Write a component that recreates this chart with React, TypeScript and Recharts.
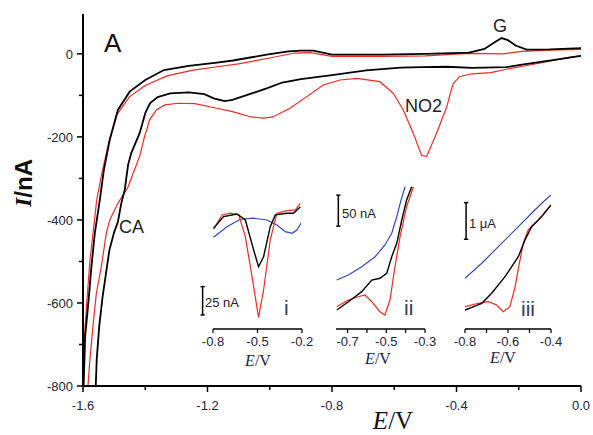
import React from "react";
import { LineChart, Line, XAxis, YAxis, ReferenceLine } from "recharts";

// main voltammograms, [E (V), I (nA)]
const blackCathodic = [
  [0, -5], [-0.08, -14], [-0.19, -26], [-0.24, -32], [-0.35, -34], [-0.43, -31], [-0.51, -32],
  [-0.58, -33], [-0.69, -40], [-0.8, -51], [-0.9, -61], [-0.96, -69], [-1.01, -83], [-1.06, -96],
  [-1.12, -111], [-1.145, -114], [-1.18, -107], [-1.21, -97], [-1.26, -93], [-1.32, -95],
  [-1.36, -104], [-1.385, -119], [-1.4, -143], [-1.418, -191], [-1.445, -239], [-1.455, -267],
  [-1.466, -328], [-1.477, -360], [-1.488, -405], [-1.5, -430], [-1.515, -472], [-1.526, -528],
  [-1.537, -585], [-1.548, -657], [-1.556, -737], [-1.559, -800],
];
const blackAnodic = [
  [-1.598, -800], [-1.593, -680], [-1.582, -593], [-1.573, -513], [-1.562, -432], [-1.546, -352],
  [-1.533, -280], [-1.514, -207], [-1.488, -135], [-1.45, -91], [-1.4, -63], [-1.34, -39],
  [-1.26, -29], [-1.17, -21], [-1.118, -16], [-1.01, -2], [-0.94, 6], [-0.9, 8], [-0.86, 8],
  [-0.8, -2], [-0.64, -2], [-0.5, 0], [-0.36, 3], [-0.31, 12], [-0.28, 27], [-0.255, 38],
  [-0.235, 33], [-0.21, 20], [-0.175, 10], [-0.1, 11], [0, 14],
];
const redCathodic = [
  [0, -5], [-0.03, -7], [-0.13, -22], [-0.24, -37], [-0.29, -45], [-0.35, -48], [-0.39, -55],
  [-0.41, -71], [-0.42, -95], [-0.431, -127], [-0.464, -191], [-0.496, -247], [-0.512, -245],
  [-0.539, -191], [-0.571, -135], [-0.603, -95], [-0.646, -67], [-0.72, -59], [-0.774, -63],
  [-0.828, -75], [-0.881, -103], [-0.935, -131], [-0.99, -152], [-1.02, -155], [-1.06, -152],
  [-1.12, -139], [-1.17, -131], [-1.24, -120], [-1.295, -119], [-1.337, -123], [-1.364, -135],
  [-1.386, -159], [-1.402, -199], [-1.418, -247], [-1.439, -288], [-1.455, -320], [-1.488, -360],
  [-1.514, -400], [-1.525, -432], [-1.541, -512], [-1.557, -576], [-1.568, -657], [-1.578, -737],
  [-1.584, -800],
];
const redAnodic = [
  [-1.6, -770], [-1.597, -700], [-1.588, -600], [-1.578, -500], [-1.566, -420], [-1.556, -352],
  [-1.54, -290], [-1.518, -215], [-1.49, -145], [-1.45, -103], [-1.4, -76], [-1.33, -53],
  [-1.25, -40], [-1.17, -31], [-1.1, -24], [-1.0, -10], [-0.92, 2], [-0.87, 3], [-0.8, -6],
  [-0.64, -6], [-0.5, -5], [-0.36, 1], [-0.25, 0], [-0.19, 6], [-0.1, 9], [0, 11],
];

// inset i (nA above axis)
const i_red = [
  [-0.796, 88], [-0.739, 100.7], [-0.683, 102.2], [-0.627, 100.7], [-0.582, 81.5], [-0.537, 46.2],
  [-0.493, 10.3], [-0.459, 34.4], [-0.414, 78.6], [-0.369, 102.2], [-0.301, 104.5], [-0.245, 105.1],
  [-0.211, 111],
];
const i_black = [
  [-0.796, 88.9], [-0.729, 99.2], [-0.638, 101.5], [-0.582, 96.2], [-0.526, 69.8], [-0.493, 55],
  [-0.459, 63.8], [-0.414, 90.3], [-0.38, 100.7], [-0.301, 102.2], [-0.257, 102.2], [-0.211, 108],
];
const i_blue = [
  [-0.796, 81], [-0.706, 90.3], [-0.616, 96.9], [-0.526, 97.8], [-0.436, 96.2], [-0.369, 91.8],
  [-0.313, 85.9], [-0.267, 84.5], [-0.234, 87.4], [-0.207, 93.3],
];

// inset ii (nA)
const ii_blue = [
  [-0.756, 79], [-0.696, 87], [-0.627, 100.5], [-0.558, 116.6], [-0.507, 135.5], [-0.472, 154.4],
  [-0.446, 181], [-0.424, 208], [-0.403, 229.5],
];
const ii_black = [
  [-0.756, 30.6], [-0.696, 44], [-0.627, 60.2], [-0.575, 79], [-0.533, 81.8], [-0.498, 89.8],
  [-0.472, 116.6], [-0.446, 138.2], [-0.42, 175.8], [-0.395, 208], [-0.369, 229.5],
];
const ii_red = [
  [-0.756, 36], [-0.696, 46.8], [-0.645, 52.1], [-0.61, 54.8], [-0.575, 44], [-0.533, 27.9],
  [-0.507, 22.6], [-0.481, 46.8], [-0.455, 100.5], [-0.429, 148.9], [-0.395, 197.3], [-0.36, 229.5],
];

// inset iii (µA)
const iii_blue = [
  [-0.8, 1.385], [-0.722, 1.795], [-0.645, 2.248], [-0.567, 2.705], [-0.49, 3.161], [-0.443, 3.434],
  [-0.4, 3.661],
];
const iii_black = [
  [-0.8, 0.519], [-0.722, 0.702], [-0.676, 0.975], [-0.614, 1.429], [-0.552, 1.975], [-0.521, 2.431],
  [-0.49, 2.795], [-0.443, 3.068], [-0.4, 3.388],
];
const iii_red = [
  [-0.8, 0.609], [-0.738, 0.702], [-0.692, 0.746], [-0.653, 0.656], [-0.622, 0.473], [-0.591, 0.609],
  [-0.567, 1.156], [-0.544, 1.885], [-0.529, 2.341], [-0.506, 2.705], [-0.459, 2.978], [-0.4, 3.388],
];

const xTicks = [-1.6, -1.4, -1.2, -1.0, -0.8, -0.6, -0.4, -0.2, 0];
const yTicks = [-800, -700, -600, -500, -400, -300, -200, -100, 0];

const RED = "#ee2a24";
const BLUE = "#3347b8";
const LBL = "#22243a";
const SANS = "'Liberation Sans', Arial, sans-serif";
const SERIF = "'Liberation Serif', 'Times New Roman', serif";

const pts = (a: number[][]) => a.map(([v, i]) => ({ v, i }));

const MainXTick = ({ x, y, payload }: any) => {
  const v = payload.value;
  const major = Math.round(v * 10) % 4 === 0;
  return (
    <g>
      <line x1={x} y1={y} x2={x} y2={y + (major ? 6 : 4)} stroke="#000" strokeWidth={1.5} />
      {major && (
        <text x={x} y={y + 24} textAnchor="middle" fontSize={13} fontFamily={SANS} fill={LBL}>
          {v.toFixed(1)}
        </text>
      )}
    </g>
  );
};

const MainYTick = ({ x, y, payload }: any) => {
  const v = payload.value;
  const major = v % 200 === 0;
  return (
    <g>
      <line x1={x} y1={y} x2={x - (major ? 6 : 4)} y2={y} stroke="#000" strokeWidth={1.5} />
      {major && (
        <text x={x - 10} y={y + 5} textAnchor="end" fontSize={13} fontFamily={SANS} fill={LBL}>
          {v}
        </text>
      )}
    </g>
  );
};

const InsetTick = ({ x, y, payload, labels }: any) => {
  const v = payload.value;
  const show = labels.some((l: number) => Math.abs(l - v) < 1e-6);
  return (
    <g>
      <line x1={x} y1={y} x2={x} y2={y + 4} stroke="#000" strokeWidth={1.2} />
      {show && (
        <text x={x} y={y + 17} textAnchor="middle" fontSize={13} fontFamily={SANS} fill={LBL}>
          {v.toFixed(1)}
        </text>
      )}
    </g>
  );
};

type InsetProps = {
  left: number; top: number; w: number; h: number;
  xDomain: number[]; yDomain: number[]; ticks: number[]; labels: number[];
  black: number[][]; red: number[][]; blue: number[][];
  bar: { x: number; y0: number; y1: number; cap: number };
};

function Inset({ left, top, w, h, xDomain, yDomain, ticks, labels, black, red, blue, bar }: InsetProps) {
  const m = 24;
  const seg = (x0: number, y0: number, x1: number, y1: number, k: string) => (
    <ReferenceLine key={k} segment={[{ x: x0, y: y0 }, { x: x1, y: y1 }]} ifOverflow="visible" stroke="#000" strokeWidth={1.5} />
  );
  return (
    <div style={{ position: "absolute", left: left - m, top }}>
      <LineChart width={w + 2 * m} height={h + 40} margin={{ top: 0, right: m, bottom: 0, left: m }}>
        <XAxis
          type="number" dataKey="v" domain={xDomain} allowDataOverflow ticks={ticks} interval={0}
          tickSize={0} tickMargin={0} height={40} tickLine={false}
          axisLine={{ stroke: "#000", strokeWidth: 1.5 }}
          tick={(p: any) => <InsetTick {...p} labels={labels} />}
        />
        <YAxis type="number" dataKey="i" domain={yDomain} allowDataOverflow hide width={0} />
        <Line data={pts(blue)} dataKey="i" stroke={BLUE} strokeWidth={1.2} dot={false} isAnimationActive={false} />
        <Line data={pts(red)} dataKey="i" stroke={RED} strokeWidth={1.2} dot={false} isAnimationActive={false} />
        <Line data={pts(black)} dataKey="i" stroke="#000" strokeWidth={1.4} dot={false} isAnimationActive={false} />
        {seg(bar.x, bar.y0, bar.x, bar.y1, "v")}
        {seg(bar.x - bar.cap, bar.y0, bar.x + bar.cap, bar.y0, "c0")}
        {seg(bar.x - bar.cap, bar.y1, bar.x + bar.cap, bar.y1, "c1")}
      </LineChart>
    </div>
  );
}

export default function App() {
  const lineProps = { dataKey: "i", dot: false, isAnimationActive: false } as const;
  return (
    <div style={{ position: "absolute", left: 0, top: 0, width: 593, height: 435, background: "#fff" }}>
      <LineChart width={593} height={435} margin={{ top: 14, right: 12, bottom: 19, left: 23 }}>
        <XAxis
          type="number" dataKey="v" domain={[-1.6, 0]} allowDataOverflow ticks={xTicks} interval={0}
          tickSize={0} tickMargin={0} height={30} tickLine={false}
          axisLine={{ stroke: "#000", strokeWidth: 2 }} tick={<MainXTick />}
        />
        <XAxis
          xAxisId="top" orientation="top" type="number" domain={[-1.6, 0]} height={0}
          tick={false} tickLine={false} axisLine={{ stroke: "#000", strokeWidth: 1.5 }}
        />
        <YAxis
          type="number" dataKey="i" domain={[-800, 96]} allowDataOverflow ticks={yTicks} interval={0}
          tickSize={0} tickMargin={0} width={60} tickLine={false}
          axisLine={{ stroke: "#000", strokeWidth: 2 }} tick={<MainYTick />}
        />
        <YAxis
          yAxisId="right" orientation="right" type="number" domain={[-800, 96]} width={0}
          tick={false} tickLine={false} axisLine={{ stroke: "#000", strokeWidth: 1.5 }}
        />
        <Line data={pts(redCathodic)} stroke={RED} strokeWidth={1.2} {...lineProps} />
        <Line data={pts(redAnodic)} stroke={RED} strokeWidth={1.2} {...lineProps} />
        <Line data={pts(blackCathodic)} stroke="#000" strokeWidth={1.8} {...lineProps} />
        <Line data={pts(blackAnodic)} stroke="#000" strokeWidth={1.8} {...lineProps} />
      </LineChart>

      <Inset
        left={212.7} top={190} w={89} h={139} xDomain={[-0.8, -0.2]} yDomain={[0, 122.7]}
        ticks={[-0.8, -0.5, -0.2]} labels={[-0.8, -0.5, -0.2]}
        black={i_black} red={i_red} blue={i_blue} bar={{ x: -0.87, y0: 12.4, y1: 37.4, cap: 0.014 }}
      />
      <Inset
        left={336} top={185} w={89} h={144} xDomain={[-0.76, -0.3]} yDomain={[0, 232.3]}
        ticks={[-0.7, -0.6, -0.5, -0.4, -0.3]} labels={[-0.7, -0.5, -0.3]}
        black={ii_black} red={ii_red} blue={ii_blue} bar={{ x: -0.748, y0: 166, y1: 216, cap: 0.011 }}
      />
      <Inset
        left={465} top={188} w={86} h={141} xDomain={[-0.8, -0.4]} yDomain={[0, 3.85]}
        ticks={[-0.8, -0.7, -0.6, -0.5, -0.4]} labels={[-0.8, -0.6, -0.4]}
        black={iii_black} red={iii_red} blue={iii_blue} bar={{ x: -0.795, y0: 2.45, y1: 3.45, cap: 0.01 }}
      />

      <svg width={593} height={435} style={{ position: "absolute", left: 0, top: 0, pointerEvents: "none" }}>
        <text x={104} y={52} fontSize={26} fontFamily={SANS} fill="#111">A</text>
        <text x={493} y={32} fontSize={18} fontFamily={SANS} fill="#222">G</text>
        <text x={405} y={112} fontSize={18} fontFamily={SANS} fill="#222">NO2</text>
        <text x={119} y={233} fontSize={18} fontFamily={SANS} fill="#222">CA</text>
        <text x={205} y={307} fontSize={13} fontFamily={SANS} fill="#222">25 nA</text>
        <text x={342} y={218} fontSize={13} fontFamily={SANS} fill="#222">50 nA</text>
        <text x={469} y={228} fontSize={13} fontFamily={SANS} fill="#222">1 μA</text>
        <text x={284} y={315} fontSize={21} fontFamily={SANS} fill="#333a55">i</text>
        <text x={404} y={315} fontSize={21} fontFamily={SANS} fill="#333a55">ii</text>
        <text x={521} y={316} fontSize={21} fontFamily={SANS} fill="#333a55">iii</text>
        {[[258, 366], [378, 364], [503, 363]].map(([x, y], k) => (
          <text key={k} x={x} y={y} textAnchor="middle" fontSize={16} fontFamily={SERIF} fill={LBL}>
            <tspan fontStyle="italic">E</tspan>/V
          </text>
        ))}
        <text x={393} y={429} textAnchor="middle" fontSize={25} fontFamily={SERIF} fill="#111">
          <tspan fontStyle="italic">E</tspan>/V
        </text>
        <text
          x={23} y={183} textAnchor="middle" dominantBaseline="central" transform="rotate(-90 23 183)"
          fontSize={24} fill="#111"
        >
          <tspan fontFamily={SERIF} fontStyle="italic" fontWeight="bold">I</tspan>
          <tspan fontFamily={SANS} fontWeight="bold">/nA</tspan>
        </text>
      </svg>
    </div>
  );
}
